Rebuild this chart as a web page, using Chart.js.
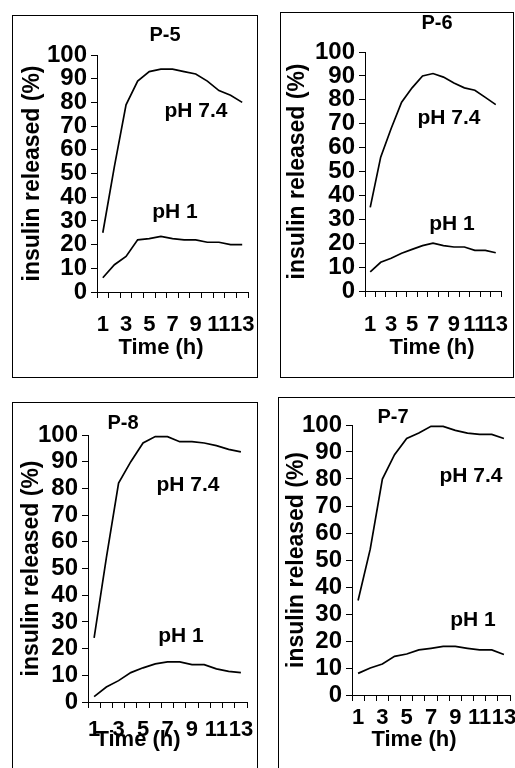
<!DOCTYPE html>
<html>
<head>
<meta charset="utf-8">
<script src="https://cdn.jsdelivr.net/npm/chart.js@4.4.1/dist/chart.umd.min.js"></script>
<style>
html, body { margin: 0; padding: 0; background: #fff; overflow: hidden; width: 515px; height: 768px; }
.panel { position: absolute; border: 1px solid #000; box-sizing: border-box; background: #fff; }
.panel canvas { display: block; }
</style>
</head>
<body>
<div class="panel" id="box5"><canvas id="c5"></canvas></div>
<div class="panel" id="box6"><canvas id="c6"></canvas></div>
<div class="panel" id="box8"><canvas id="c8"></canvas></div>
<div class="panel" id="box7"><canvas id="c7"></canvas></div>
<script>
// time points (h)
const hours = ['1', '2', '3', '4', '5', '6', '7', '8', '9', '10', '11', '12', '13'];

// insulin released (%)
const p5_ph74 = [25, 53, 79, 89, 93, 94, 94, 93, 92, 89, 85, 83, 80];
const p5_ph1 = [6, 11.5, 15, 22, 22.5, 23.5, 22.5, 22, 22, 21, 21, 20, 20];
const p6_ph74 = [35, 56, 68, 79, 85, 90, 91, 89.5, 87, 85, 84, 81, 78];
const p6_ph1 = [8, 12, 13.7, 15.8, 17.4, 19, 20, 19, 18.4, 18.4, 17, 17, 16];
const p8_ph74 = [24, 54, 82, 90, 97, 99.4, 99.4, 97.5, 97.5, 97, 96, 94.6, 93.7];
const p8_ph1 = [2, 5.6, 8, 11, 12.8, 14.3, 15, 15, 14, 14, 12.4, 11.5, 11];
const p7_ph74 = [35, 54, 80, 89, 95, 97, 99.5, 99.5, 98, 97, 96.5, 96.5, 95];
const p7_ph1 = [8, 10, 11.5, 14.3, 15.2, 16.7, 17.3, 18, 18, 17.3, 16.7, 16.7, 15];

const FONT = '"Liberation Sans", Arial, sans-serif';

function makePanel(id, name, ph74, ph1, box, lay) {
    const el = document.getElementById('box' + id);
    el.style.left = box.x + 'px';
    el.style.top = box.y + 'px';
    el.style.width = box.w + 'px';
    el.style.height = box.h + 'px';
    const ox = box.x + 1, oy = box.y + 1;
    const cw = box.w - 2, ch = box.h - 2;

    // panel name, x title and pH labels
    const panelText = {
        id: 'panelText',
        afterDraw(chart) {
            const ctx = chart.ctx;
            ctx.save();
            ctx.fillStyle = '#000';
            ctx.textAlign = 'center';
            ctx.textBaseline = 'middle';
            ctx.font = 'bold 20px ' + FONT;
            ctx.fillText(name, lay.title[0] - ox, lay.title[1] - oy);
            ctx.font = 'bold 22px ' + FONT;
            ctx.fillText('Time (h)', lay.time[0] - ox, lay.time[1] - oy);
            ctx.font = 'bold 21px ' + FONT;
            ctx.fillText('pH 7.4', lay.lab74[0] - ox, lay.lab74[1] - oy);
            ctx.fillText('pH 1', lay.lab1[0] - ox, lay.lab1[1] - oy);
            ctx.restore();
        }
    };

    new Chart(document.getElementById('c' + id), {
        type: 'line',
        data: {
            labels: hours,
            datasets: [
                { label: 'pH 7.4', data: ph74, borderColor: '#000', borderWidth: 1.7, pointRadius: 0, tension: 0, fill: false },
                { label: 'pH 1', data: ph1, borderColor: '#000', borderWidth: 1.7, pointRadius: 0, tension: 0, fill: false }
            ]
        },
        options: {
            responsive: true,
            maintainAspectRatio: false,
            animation: false,
            layout: {
                padding: { left: 0, top: lay.y100 - oy, right: cw - (lay.xEnd - ox), bottom: 0 }
            },
            plugins: {
                legend: { display: false },
                tooltip: { enabled: false }
            },
            scales: {
                x: {
                    offset: true,
                    grid: { offset: true, drawOnChartArea: false, color: '#000', tickLength: 6, lineWidth: 1 },
                    border: { color: '#000', width: 1 },
                    ticks: {
                        autoSkip: false, maxRotation: 0, minRotation: 0,
                        padding: lay.tickPad, color: '#000',
                        font: { family: FONT, size: 22, weight: 'bold' },
                        callback: (v, i) => (i % 2 === 0 ? hours[i] : '')
                    },
                    afterFit: s => { s.height = ch - (lay.y0 - oy); s.paddingLeft = 0; s.paddingRight = 0; }
                },
                y: {
                    min: 0, max: 100,
                    grid: { drawOnChartArea: false, color: '#000', tickLength: 6, lineWidth: 1 },
                    border: { color: '#000', width: 1 },
                    ticks: {
                        stepSize: 10, autoSkip: false, padding: 4, color: '#000',
                        font: { family: FONT, size: 24, weight: 'bold', lineHeight: 1 }
                    },
                    title: {
                        display: true, text: 'insulin released (%)', color: '#000',
                        font: { family: FONT, size: 23, weight: 'bold' },
                        padding: { top: lay.yTitlePad, bottom: 0 }
                    },
                    afterFit: s => { s.width = lay.axisX - ox; s.paddingTop = 0; s.paddingBottom = 0; }
                }
            }
        },
        plugins: [panelText]
    });
}

makePanel('5', 'P-5', p5_ph74, p5_ph1,
    { x: 12, y: 15, w: 246, h: 363 },
    { axisX: 97, y100: 55, y0: 292, xEnd: 248, tickPad: 14, yTitlePad: 6,
      title: [165, 35], time: [161, 348], lab74: [196, 111], lab1: [175, 212] });

makePanel('6', 'P-6', p6_ph74, p6_ph1,
    { x: 280, y: 12, w: 234, h: 366 },
    { axisX: 365, y100: 52, y0: 291, xEnd: 501, tickPad: 15, yTitlePad: 3,
      title: [437, 23], time: [432, 348], lab74: [449, 118], lab1: [452, 224] });

makePanel('8', 'P-8', p8_ph74, p8_ph1,
    { x: 12, y: 402, w: 246, h: 380 },
    { axisX: 88, y100: 435, y0: 702, xEnd: 247, tickPad: 9, yTitlePad: 5,
      title: [123, 423], time: [138, 740], lab74: [188, 485], lab1: [181, 636] });

makePanel('7', 'P-7', p7_ph74, p7_ph1,
    { x: 278, y: 397, w: 245, h: 380 },
    { axisX: 352, y100: 425, y0: 695, xEnd: 510, tickPad: 4, yTitlePad: 4,
      title: [393, 417], time: [414, 740], lab74: [471, 476], lab1: [473, 620] });
</script>
</body>
</html>
